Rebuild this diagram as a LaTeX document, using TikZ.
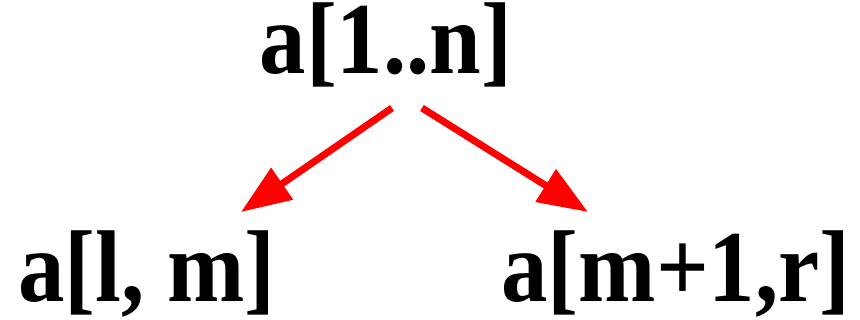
\documentclass[tikz,border=0pt]{standalone}
\usepackage{fontspec}
\setmainfont{Liberation Serif}
\newfontfamily\lblfont[FakeStretch=0.91]{Liberation Serif}
\usetikzlibrary{arrows.meta}
\tikzset{
  lbl/.style={anchor=base, inner sep=0pt, font=\lblfont\fontsize{102}{102}\selectfont\bfseries},
  redarrow/.style={draw=red, fill=red, line width=7pt, -{Triangle[length=50pt,width=37pt]}}
}
\begin{document}
\begin{tikzpicture}[x=1pt,y=-1pt]
\useasboundingbox (0,0) rectangle (860,320);
\node[lbl] (top) at (386,74) {a[1..n]};
\node[lbl] (left) at (147,302) {a[l, m]};
\node[lbl] (right) at (676,302) {a[m+1,r]};
\coordinate (s1) at (392,108);
\coordinate (e1) at (241,212);
\coordinate (s2) at (422,108);
\coordinate (e2) at (588,212);
\draw[redarrow] (s1) -- (e1);
\draw[redarrow] (s2) -- (e2);
\end{tikzpicture}
\end{document}
